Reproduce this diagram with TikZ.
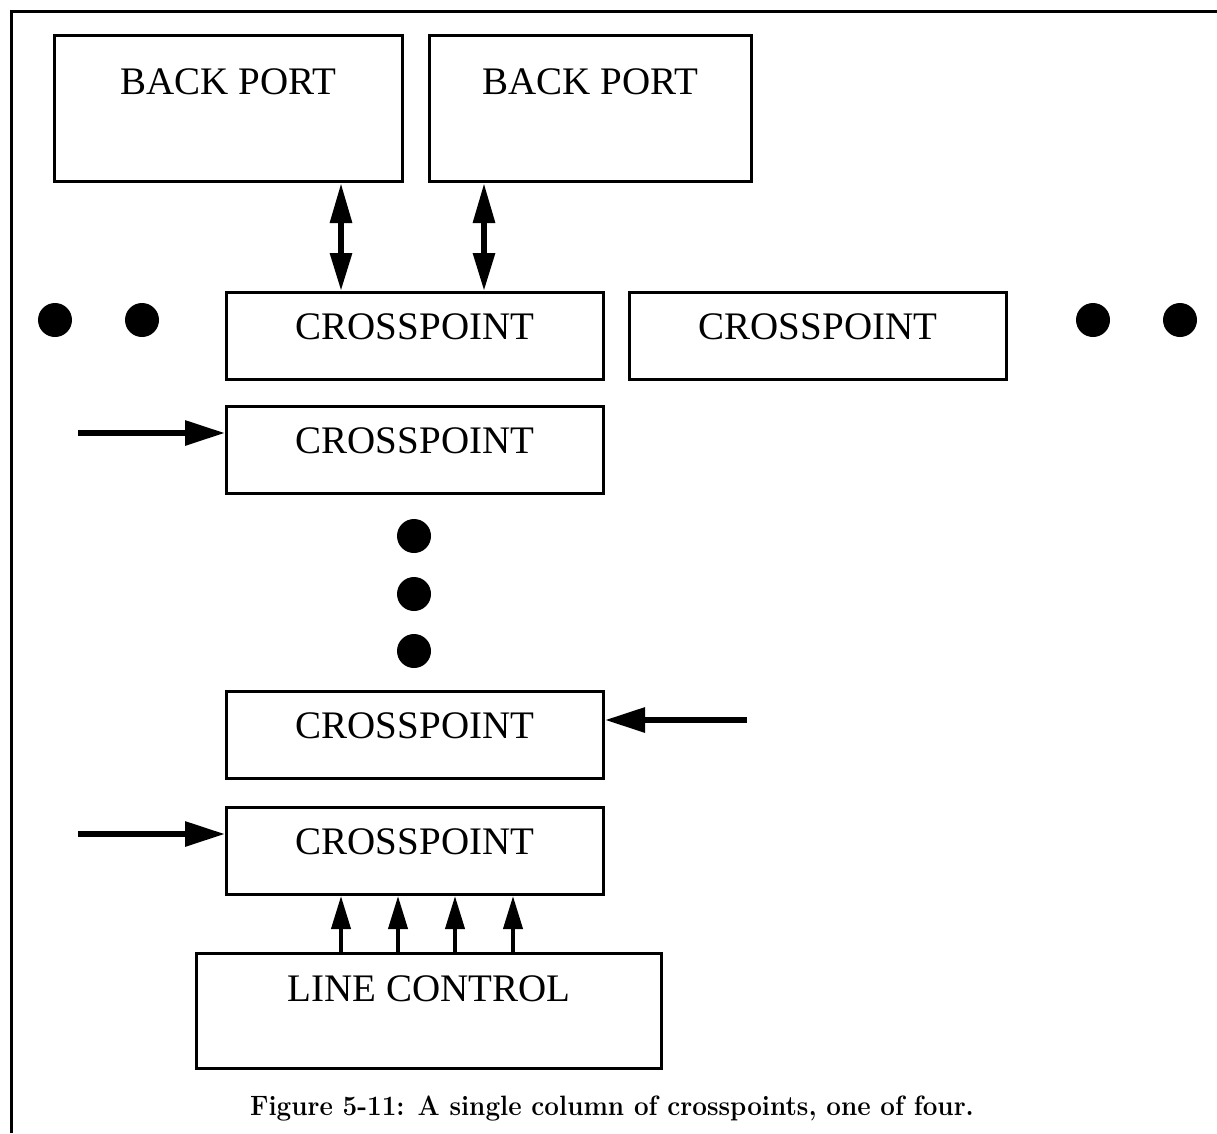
\documentclass[tikz,border=0pt]{standalone}
\usepackage{fontspec}
\newfontfamily\boxfont{Liberation Serif}
\usetikzlibrary{arrows.meta}
\begin{document}
\begin{tikzpicture}[x=1pt,y=-1pt,
  box/.style={draw, line width=3pt, inner xsep=0pt, inner ysep=0pt, anchor=north west,
    font=\boxfont\fontsize{39}{44}\selectfont},
  cpbox/.style={box, minimum width=377pt, text height=47pt, text depth=40pt},
  bpbox/.style={box, text height=59pt, text depth=87pt},
  dot/.style={circle, fill=black, minimum size=34pt, inner sep=0pt},
  sarrow/.style={line width=6pt, -{Triangle[length=40pt,width=24pt]}},
  uarrow/.style={line width=4pt, -{Triangle[length=33pt,width=19pt]}},
  darrow/.style={line width=6pt, {Triangle[length=38pt,width=21pt]}-{Triangle[length=40pt,width=21pt]}},
]
\useasboundingbox (0,0) rectangle (1217,1133);
% frame
\draw[line width=3pt] (11,1133) -- (11,11) -- (1217,11);

% back ports
\node[bpbox, minimum width=348pt] (bp1) at (53,34) {BACK PORT};
\node[bpbox, minimum width=322pt] (bp2) at (428,34) {BACK PORT};

% crosspoints
\node[cpbox] (cp1a) at (225,291) {CROSSPOINT};
\node[cpbox] (cp1b) at (628,291) {CROSSPOINT};
\node[cpbox] (cp2) at (225,405) {CROSSPOINT};
\node[cpbox] (cp3) at (225,690) {CROSSPOINT};
\node[cpbox] (cp4) at (225,806) {CROSSPOINT};

% line control
\node[box, minimum width=465pt, text height=48pt, text depth=67pt] (lc) at (195,952) {LINE CONTROL};

% dots
\node[dot] (dl1) at (55,320) {};
\node[dot] (dl2) at (142,320) {};
\node[dot] (dr1) at (1093,320) {};
\node[dot] (dr2) at (1180,320) {};
\node[dot] (dv1) at (414,536) {};
\node[dot] (dv2) at (414,594) {};
\node[dot] (dv3) at (414,651) {};

% double arrows
\coordinate (xa) at (341,0);
\coordinate (xb) at (484,0);
\draw[darrow] (xa |- cp1a.north) -- (xa |- bp1.south);
\draw[darrow] (xb |- cp1a.north) -- (xb |- bp2.south);

% input arrows
\coordinate (in2) at (78,433);
\coordinate (in3) at (747,720);
\coordinate (in4) at (78,834);
\draw[sarrow] (in2) -- (in2 -| cp2.west);
\draw[sarrow] (in3) -- (in3 -| cp3.east);
\draw[sarrow] (in4) -- (in4 -| cp4.west);

% control arrows
\foreach \i/\x in {1/341,2/398,3/455,4/513}{
  \coordinate (u\i) at (\x,0);
  \draw[uarrow] (u\i |- lc.north) -- (u\i |- cp4.south);
}

% caption
\node[anchor=base, inner sep=0pt, font=\fontsize{28}{32}\selectfont\bfseries] (cap) at (612,1115)
  {\scalebox{0.93}[1]{Figure 5-11: A single column of crosspoints, one of four.}};
\end{tikzpicture}
\end{document}
